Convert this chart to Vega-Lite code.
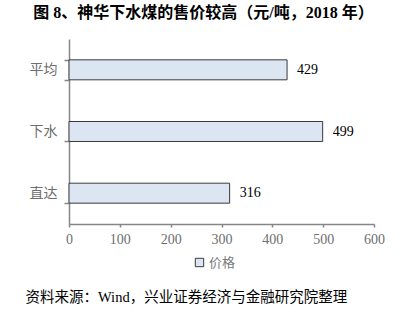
{
  "$schema": "https://vega.github.io/schema/vega-lite/v6.json",
  "width": 305,
  "height": 185,
  "autosize": {"type": "none"},
  "padding": {"left": 69, "top": 39, "right": 32, "bottom": 96},
  "background": "white",
  "title": {
    "text": "图 8、神华下水煤的售价较高（元/吨，2018 年）",
    "font": "Liberation Serif, Noto Sans CJK SC",
    "fontSize": 16,
    "fontWeight": "bold",
    "color": "#000000",
    "anchor": "middle",
    "frame": "group",
    "dx": -18,
    "offset": 11
  },
  "data": {
    "values": [
      {"类别": "平均", "价格": 429},
      {"类别": "下水", "价格": 499},
      {"类别": "直达", "价格": 316}
    ]
  },
  "encoding": {
    "y": {
      "field": "类别",
      "type": "nominal",
      "sort": null,
      "scale": {"paddingInner": 0.676, "paddingOuter": 0.338},
      "axis": {
        "title": null,
        "tickBand": "extent",
        "domainColor": "#868686",
        "domainWidth": 1.5,
        "tickColor": "#868686",
        "tickWidth": 1.5,
        "tickSize": 5,
        "labelPadding": 7,
        "labelFont": "Noto Sans CJK SC",
        "labelFontSize": 14,
        "labelColor": "#6e6e6e",
        "grid": false
      }
    },
    "x": {
      "field": "价格",
      "type": "quantitative",
      "scale": {"domain": [0, 600], "nice": false},
      "axis": {
        "values": [0, 100, 200, 300, 400, 500, 600],
        "grid": false,
        "labelFlush": false,
        "domainColor": "#868686",
        "domainWidth": 1.5,
        "tickColor": "#868686",
        "tickWidth": 1.5,
        "tickSize": 3,
        "labelPadding": 5,
        "labelFont": "Liberation Serif",
        "labelFontSize": 14,
        "labelColor": "#6e6e6e",
        "title": "资料来源：Wind，兴业证券经济与金融研究院整理",
        "titleFont": "Liberation Serif, Noto Sans CJK SC",
        "titleFontSize": 14.5,
        "titleFontWeight": "normal",
        "titleColor": "#000000",
        "titleAlign": "left",
        "titleBaseline": "middle",
        "titleX": -44,
        "titleY": 73
      }
    }
  },
  "layer": [
    {
      "mark": {"type": "bar", "stroke": "#3a3a3a", "strokeWidth": 1},
      "encoding": {
        "color": {
          "datum": "价格",
          "type": "nominal",
          "scale": {"range": ["#DCE6F2"]},
          "legend": {
            "title": null,
            "orient": "none",
            "legendX": 124,
            "legendY": 217,
            "padding": 0,
            "symbolType": "square",
            "symbolSize": 70,
            "symbolStrokeColor": "#3a3a3a",
            "symbolStrokeWidth": 1,
            "symbolFillColor": "#DCE6F2",
            "labelFont": "Noto Sans CJK SC",
            "labelFontSize": 13,
            "labelColor": "#7a7a7a",
            "labelOffset": 3
          }
        }
      }
    },
    {
      "mark": {
        "type": "text",
        "align": "left",
        "baseline": "middle",
        "dx": 10,
        "font": "Liberation Serif",
        "fontSize": 14,
        "color": "#000000"
      },
      "encoding": {"text": {"field": "价格", "type": "quantitative"}}
    }
  ],
  "config": {"view": {"stroke": null}}
}
